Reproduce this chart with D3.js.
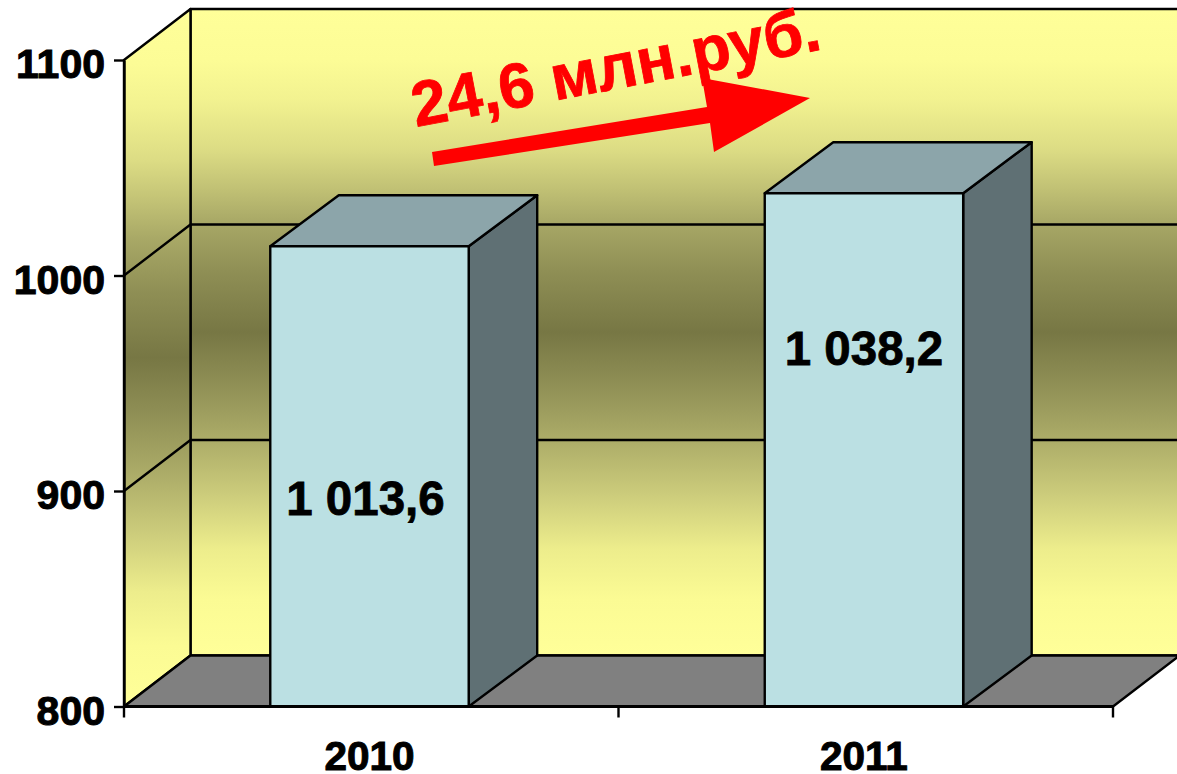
<!DOCTYPE html>
<html>
<head>
<meta charset="utf-8">
<script src="https://cdn.jsdelivr.net/npm/d3@7"></script>
<style>
html, body { margin: 0; padding: 0; background: #fff; overflow: hidden; }
text { font-family: "Liberation Sans", Arial, sans-serif; font-weight: bold; }
</style>
</head>
<body>
<svg id="chart" width="1177" height="774"></svg>
<script>
var years = ["2010", "2011"];
var values = [1013.6, 1038.2];
var valueLabels = ["1 013,6", "1 038,2"];
var yTicks = [800, 900, 1000, 1100];
var deltaLabel = "24,6 млн.руб.";

var depthX = 66.5, depthY = -51, barDepthX = 68.5;

var svg = d3.select("#chart");

var x = d3.scaleBand().domain(years).range([124, 1113]).paddingInner(0.5987).paddingOuter(0.2994).align(0.494);
var y = d3.scaleLinear().domain([800, 1100]).range([706.5, 60]);

var xLeft = x.range()[0], xRight = x.range()[1];
var yBottom = y(800), yTop = y(1100);

function poly(pts) { return pts.map(function(p) { return p.join(","); }).join(" "); }

var defs = svg.append("defs");

function wallGradient(id, y1, y2) {
	var g = defs.append("linearGradient").attr("id", id).attr("gradientUnits", "userSpaceOnUse")
		.attr("x1", 0).attr("x2", 0).attr("y1", y1).attr("y2", y2);
	var stops = [[0, "#ffff99"], [0.079, "#fcfc96"], [0.14, "#f2f290"], [0.218, "#dcdc84"], [0.28, "#c0c074"], [0.33, "#a8a866"],
		[0.405, "#8f8f55"], [0.5, "#777744"], [0.58, "#8f8f55"], [0.666, "#acac68"], [0.759, "#cfcf7d"], [0.836, "#eded8c"],
		[0.913, "#fbfb94"], [1, "#ffff99"]];
	g.selectAll("stop").data(stops).enter().append("stop")
		.attr("offset", function(d) { return d[0]; })
		.attr("stop-color", function(d) { return d[1]; });
}
wallGradient("backwall", yTop + depthY, yBottom + depthY);
wallGradient("sidewall", yTop + depthY, yBottom);

var walls = svg.append("g").attr("stroke", "#000").attr("stroke-width", 2.4).attr("stroke-linejoin", "round");

// back wall, side wall, floor
walls.append("polygon").attr("fill", "url(#backwall)")
	.attr("points", poly([[xLeft + depthX, yTop + depthY], [1190, yTop + depthY], [1190, yBottom + depthY], [xLeft + depthX, yBottom + depthY]]));
walls.append("polygon").attr("fill", "url(#sidewall)")
	.attr("points", poly([[xLeft, yTop], [xLeft + depthX, yTop + depthY], [xLeft + depthX, yBottom + depthY], [xLeft, yBottom]]));
walls.append("polygon").attr("fill", "#808080")
	.attr("points", poly([[xLeft, yBottom], [xLeft + depthX, yBottom + depthY], [xRight + depthX, yBottom + depthY], [xRight, yBottom]]));

// gridlines
yTicks.slice(1, 3).forEach(function(t) {
	walls.append("polyline").attr("fill", "none")
		.attr("points", poly([[xLeft, y(t)], [xLeft + depthX, y(t) + depthY], [1190, y(t) + depthY]]));
});

// bars
var bars = svg.selectAll("g.bar").data(years).enter().append("g").attr("class", "bar")
	.attr("stroke", "#000").attr("stroke-width", 2.4).attr("stroke-linejoin", "round");

bars.append("polygon").attr("fill", "#5f7074").attr("points", function(d, i) {
	var r = x(d) + x.bandwidth();
	return poly([[r, y(values[i])], [r + barDepthX, y(values[i]) + depthY], [r + barDepthX, yBottom + depthY], [r, yBottom]]);
});
bars.append("polygon").attr("fill", "#8ca5aa").attr("points", function(d, i) {
	var l = x(d), r = l + x.bandwidth();
	return poly([[l, y(values[i])], [l + barDepthX, y(values[i]) + depthY], [r + barDepthX, y(values[i]) + depthY], [r, y(values[i])]]);
});
bars.append("rect").attr("fill", "#bbe0e3")
	.attr("x", function(d) { return x(d); })
	.attr("y", function(d, i) { return y(values[i]); })
	.attr("width", x.bandwidth())
	.attr("height", function(d, i) { return yBottom - y(values[i]); });

// axes
var yAxis = d3.axisLeft(y).tickValues(yTicks).tickSize(10).tickSizeOuter(0).tickPadding(9).tickFormat(d3.format("d"));
var gy = svg.append("g").attr("transform", "translate(" + xLeft + ",0)").call(yAxis);
gy.selectAll("text").attr("font-size", 41).attr("font-family", null).attr("dy", "0.43em")
	.attr("fill", "#000").attr("stroke", "#000").attr("stroke-width", 1);
gy.selectAll("line").attr("stroke", "#000").attr("stroke-width", 2.4);
gy.select(".domain").attr("stroke", "#000").attr("stroke-width", 2.4);

var xEdges = [xLeft, (xLeft + xRight) / 2, xRight];
svg.append("line").attr("x1", xLeft).attr("x2", xRight).attr("y1", yBottom).attr("y2", yBottom)
	.attr("stroke", "#000").attr("stroke-width", 3);
svg.selectAll("line.xtick").data(xEdges).enter().append("line").attr("class", "xtick")
	.attr("x1", function(d) { return d; }).attr("x2", function(d) { return d; })
	.attr("y1", yBottom).attr("y2", yBottom + 11)
	.attr("stroke", "#000").attr("stroke-width", 2.4);
svg.selectAll("text.year").data(years).enter().append("text").attr("class", "year")
	.attr("x", function(d) { return x(d) + x.bandwidth() / 2; })
	.attr("y", 769.5).attr("text-anchor", "middle").attr("font-size", 40.5)
	.attr("stroke", "#000").attr("stroke-width", 1)
	.text(function(d) { return d; });

// value labels sit by hand inside the bars, like in the original slide
var labelBase = [515, 365];
var labelShift = [-4, 0];
svg.selectAll("text.val").data(valueLabels).enter().append("text").attr("class", "val")
	.attr("x", function(d, i) { return x(years[i]) + x.bandwidth() / 2 + labelShift[i]; })
	.attr("y", function(d, i) { return labelBase[i]; })
	.attr("text-anchor", "middle").attr("font-size", 47.5)
	.attr("stroke", "#000").attr("stroke-width", 0.8)
	.text(function(d) { return d; });

// red growth arrow
svg.append("polygon").attr("fill", "#ff0000")
	.attr("points", poly([[432, 152], [707, 107], [702, 78], [810, 98], [714, 152], [710, 123], [434, 166]]));

svg.append("text").attr("transform", "translate(416,127) rotate(-10.8)")
	.attr("font-size", 63.5).attr("fill", "#ff0000").attr("stroke", "#ff0000").attr("stroke-width", 0.8)
	.text(deltaLabel);
</script>
</body>
</html>
